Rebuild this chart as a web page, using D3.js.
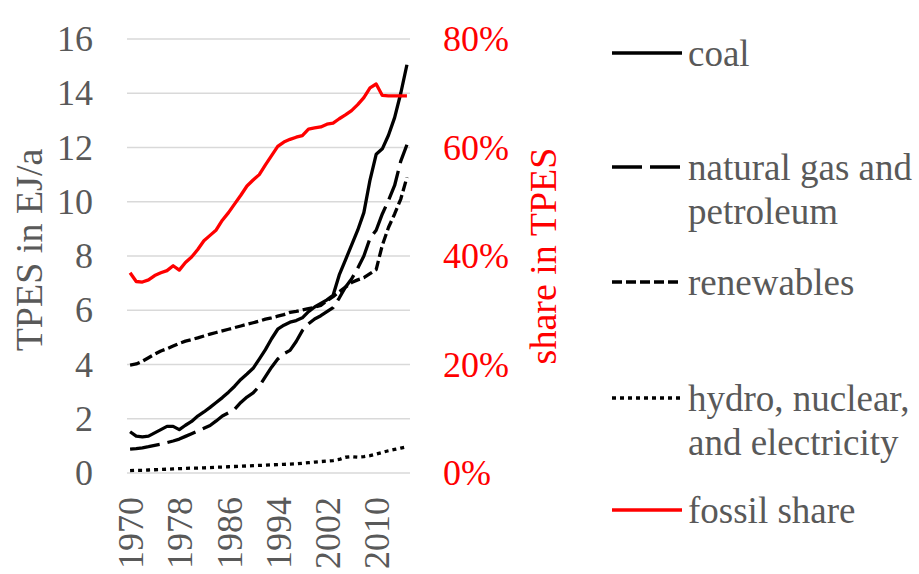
<!DOCTYPE html>
<html>
<head>
<meta charset="utf-8">
<script src="https://cdn.jsdelivr.net/npm/d3@7/dist/d3.min.js"></script>
<style>
  body { margin: 0; background: #fff; }
  text { font-family: "Liberation Serif", "Times New Roman", serif; }
</style>
</head>
<body>
<div class="chart"></div>
<script>
// Chart size
var svgWidth = 919;
var svgHeight = 574;

// Plot area
var plot = { left: 127, right: 410, top: 39, bottom: 473 };

// Data: 1970 - 2015
var years = d3.range(1970, 2016);

var coal = [1.52, 1.36, 1.33, 1.36, 1.48, 1.60, 1.72, 1.72, 1.60, 1.76,
  1.90, 2.10, 2.25, 2.42, 2.60, 2.78, 2.98, 3.20, 3.45, 3.65,
  3.86, 4.20, 4.55, 4.95, 5.30, 5.45, 5.56, 5.62, 5.72, 5.95,
  6.12, 6.25, 6.38, 6.55, 7.30, 7.85, 8.40, 8.95, 9.60, 10.80,
  11.75, 11.95, 12.45, 13.10, 14.00, 15.05];

var gasPetroleum = [0.88, 0.90, 0.93, 0.97, 1.02, 1.06, 1.12, 1.18, 1.25, 1.35,
  1.45, 1.55, 1.65, 1.75, 1.92, 2.10, 2.22, 2.35, 2.60, 2.80,
  2.95, 3.20, 3.55, 3.90, 4.20, 4.40, 4.52, 4.85, 5.25, 5.50,
  5.68, 5.80, 5.95, 6.10, 6.45, 6.85, 7.15, 7.55, 8.00, 8.65,
  8.95, 9.55, 10.05, 10.60, 11.50, 12.10];

var renewables = [3.98, 4.02, 4.12, 4.25, 4.38, 4.50, 4.58, 4.68, 4.78, 4.86,
  4.92, 4.98, 5.05, 5.12, 5.18, 5.24, 5.30, 5.36, 5.42, 5.48,
  5.54, 5.60, 5.67, 5.72, 5.78, 5.84, 5.92, 5.96, 6.01, 6.06,
  6.11, 6.18, 6.35, 6.50, 6.68, 6.85, 7.02, 7.12, 7.20, 7.35,
  7.50, 8.40, 9.05, 9.55, 10.10, 10.90];

var hydroNuclear = [0.09, 0.10, 0.10, 0.11, 0.12, 0.13, 0.14, 0.15, 0.16, 0.17,
  0.18, 0.18, 0.19, 0.20, 0.21, 0.22, 0.23, 0.24, 0.25, 0.26,
  0.27, 0.28, 0.29, 0.30, 0.31, 0.32, 0.33, 0.34, 0.36, 0.38,
  0.40, 0.42, 0.44, 0.46, 0.50, 0.58, 0.60, 0.58, 0.60, 0.64,
  0.70, 0.76, 0.82, 0.87, 0.92, 0.97];

// fossil share of TPES (fraction)
var fossilShare = [0.369, 0.353, 0.352, 0.356, 0.364, 0.369, 0.373, 0.382, 0.374, 0.388,
  0.398, 0.412, 0.428, 0.438, 0.448, 0.466, 0.480, 0.496, 0.512, 0.529,
  0.540, 0.550, 0.568, 0.585, 0.602, 0.610, 0.615, 0.619, 0.622, 0.634,
  0.636, 0.638, 0.643, 0.645, 0.653, 0.660, 0.668, 0.679, 0.692, 0.710,
  0.717, 0.696, 0.695, 0.695, 0.695, 0.695];

// Tick labels
var yTicks = d3.range(0, 17, 2);
var y2Ticks = [0, 0.2, 0.4, 0.6, 0.8];
var xTicks = [1970, 1978, 1986, 1994, 2002, 2010];

var grey = "#595959";
var red = "#ff0000";

var svg = d3.select(".chart")
  .append("svg")
  .attr("width", svgWidth)
  .attr("height", svgHeight);

// Scales
var xScale = d3.scalePoint()
  .domain(years)
  .range([plot.left, plot.right])
  .padding(0.5);

var yScale = d3.scaleLinear()
  .domain([0, 16])
  .range([plot.bottom, plot.top]);

var y2Scale = d3.scaleLinear()
  .domain([0, 0.8])
  .range([plot.bottom, plot.top]);

// Gridlines
svg.append("g")
  .selectAll("line")
  .data(yTicks)
  .enter()
  .append("line")
  .attr("x1", plot.left)
  .attr("x2", plot.right)
  .attr("y1", d => yScale(d))
  .attr("y2", d => yScale(d))
  .attr("stroke", "#d9d9d9")
  .attr("stroke-width", 1.5);

// Left axis
var leftAxis = d3.axisLeft(yScale)
  .tickValues(yTicks)
  .tickSize(0)
  .tickPadding(34);

var yAxis = svg.append("g")
  .attr("transform", `translate(${plot.left}, 0)`)
  .call(leftAxis);

yAxis.select(".domain").remove();
yAxis.selectAll("text")
  .attr("fill", grey)
  .style("font-size", "36px")
  .style("font-family", "Liberation Serif");

// Right axis
var rightAxis = d3.axisRight(y2Scale)
  .tickValues(y2Ticks)
  .tickSize(0)
  .tickPadding(33)
  .tickFormat(d3.format(".0%"));

var y2Axis = svg.append("g")
  .attr("transform", `translate(${plot.right}, 0)`)
  .call(rightAxis);

y2Axis.select(".domain").remove();
y2Axis.selectAll("text")
  .attr("fill", red)
  .style("font-size", "36px")
  .style("font-family", "Liberation Serif");

// Bottom axis with rotated year labels
var bottomAxis = d3.axisBottom(xScale)
  .tickValues(xTicks)
  .tickSize(0);

var xAxis = svg.append("g")
  .attr("transform", `translate(0, ${plot.bottom})`)
  .call(bottomAxis);

xAxis.select(".domain").remove();
xAxis.selectAll("text")
  .attr("transform", "rotate(-90)")
  .attr("text-anchor", "end")
  .attr("x", -24)
  .attr("y", 0)
  .attr("dy", "0.35em")
  .attr("fill", grey)
  .style("font-size", "36px")
  .style("font-family", "Liberation Serif");

// Axis titles
svg.append("text")
  .attr("transform", `translate(42, 250) rotate(-90)`)
  .attr("text-anchor", "middle")
  .attr("fill", grey)
  .style("font-size", "38px")
  .text("TPES in EJ/a");

svg.append("text")
  .attr("transform", `translate(556, 256) rotate(-90)`)
  .attr("text-anchor", "middle")
  .attr("fill", red)
  .style("font-size", "38px")
  .text("share in TPES");

// Series
var series = [
  { name: "coal", values: coal, dash: null, color: "#000", scale: yScale },
  { name: "gas", values: gasPetroleum, dash: "30 8", color: "#000", scale: yScale },
  { name: "renewables", values: renewables, dash: "10 4", color: "#000", scale: yScale },
  { name: "hydro", values: hydroNuclear, dash: "4 4", color: "#000", scale: yScale },
  { name: "fossil", values: fossilShare, dash: null, color: red, scale: y2Scale }
];

series.forEach(function(s) {
  var line = d3.line()
    .x((d, i) => xScale(years[i]))
    .y(d => s.scale(d));

  svg.append("path")
    .datum(s.values)
    .attr("d", line)
    .attr("fill", "none")
    .attr("stroke", s.color)
    .attr("stroke-width", 3.3)
    .attr("stroke-linejoin", "round")
    .attr("stroke-dasharray", s.dash);
});

// Legend
var legendItems = [
  { lines: ["coal"], y: 53, dash: null, color: "#000" },
  { lines: ["natural gas and", "petroleum"], y: 167, dash: "30 8", color: "#000" },
  { lines: ["renewables"], y: 282, dash: "10 4", color: "#000" },
  { lines: ["hydro, nuclear,", "and electricity"], y: 398, dash: "4 4", color: "#000" },
  { lines: ["fossil share"], y: 510, dash: null, color: red }
];

var legend = svg.append("g");

legendItems.forEach(function(item) {
  legend.append("line")
    .attr("x1", 612)
    .attr("x2", 682)
    .attr("y1", item.y)
    .attr("y2", item.y)
    .attr("stroke", item.color)
    .attr("stroke-width", 3.3)
    .attr("stroke-dasharray", item.dash);

  item.lines.forEach(function(t, j) {
    legend.append("text")
      .attr("x", 688)
      .attr("y", item.y + 13 + j * 44)
      .attr("fill", grey)
      .style("font-size", "37px")
      .text(t);
  });
});
</script>
</body>
</html>
